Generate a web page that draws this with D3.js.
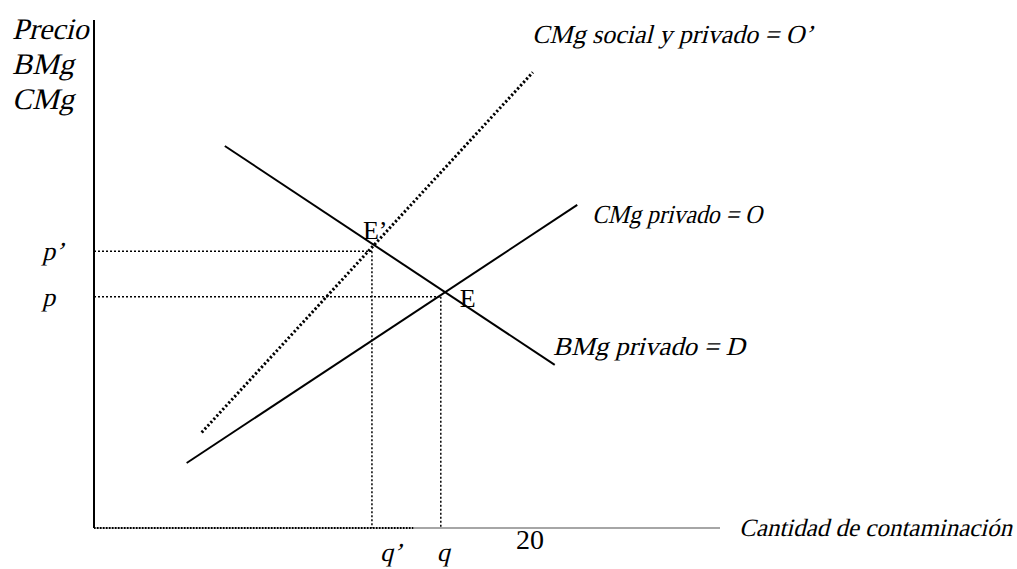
<!DOCTYPE html>
<html>
<head>
<meta charset="utf-8">
<script src="https://cdn.jsdelivr.net/npm/d3@7"></script>
<style>
  body { margin: 0; background: #fff; }
</style>
</head>
<body>
<div id="chart"></div>
<script>
// Curves (quantity, price) in chart units
const demanda = [[20.9, 75.2], [73.6, 32.1]];        // BMg privado = D
const ofertaPrivada = [[14.8, 12.8], [77.2, 63.6]];  // CMg privado = O
const ofertaSocial = [[17.2, 18.8], [70.1, 89.7]];   // CMg social y privado = O'

// Equilibria
const equilibrios = [
  { name: "E’", q: 44.4, p: 54.5 },
  { name: "E", q: 55.4, p: 45.5 }
];

const yLabels = ["Precio", "BMg", "CMg"];
const priceLabels = ["p’", "p"];
const qtyLabels = ["q’", "q"];
const xTickLabel = "20";
const xTitle = "Cantidad de contaminación";
const curveLabels = ["CMg social y privado = O’", "CMg privado = O", "BMg privado = D"];

const FONT = "'Liberation Serif', 'Times New Roman', Times, serif";
const W = 1017, H = 569;
const svg = d3.select("#chart").append("svg")
  .attr("width", W).attr("height", H);

// scales
const x = d3.scaleLinear().domain([0, 100]).range([94, 720]);
const y = d3.scaleLinear().domain([0, 100]).range([528, 20]);

const line = d3.line().x(d => x(d[0])).y(d => y(d[1]));

// italic look: upright serif skewed (no italic face needed)
function italic(px, py, size, t, len) {
  const el = svg.append("text")
    .attr("transform", `translate(${px},${py}) skewX(-14)`)
    .attr("font-family", FONT)
    .attr("font-size", size)
    .text(t);
  if (len) el.attr("textLength", len).attr("lengthAdjust", "spacingAndGlyphs");
  return el;
}

// x axis: dotted part then gray solid
svg.append("line")
  .attr("x1", x(0)).attr("x2", x(100))
  .attr("y1", y(0)).attr("y2", y(0))
  .attr("stroke", "#888").attr("stroke-width", 1.5);
svg.append("line")
  .attr("x1", x(0)).attr("x2", x(51))
  .attr("y1", y(0)).attr("y2", y(0))
  .attr("stroke", "#000").attr("stroke-width", 2)
  .attr("stroke-dasharray", "1.5,1.5");

// y axis
svg.append("line")
  .attr("x1", x(0)).attr("x2", x(0))
  .attr("y1", y(0)).attr("y2", y(100))
  .attr("stroke", "#000").attr("stroke-width", 2);

// guide lines to equilibria
equilibrios.forEach(e => {
  svg.append("line")
    .attr("x1", x(0)).attr("x2", x(e.q))
    .attr("y1", y(e.p)).attr("y2", y(e.p))
    .attr("stroke", "#000").attr("stroke-width", 1.5)
    .attr("stroke-dasharray", "2,2");
  svg.append("line")
    .attr("x1", x(e.q)).attr("x2", x(e.q))
    .attr("y1", y(e.p)).attr("y2", y(0))
    .attr("stroke", "#000").attr("stroke-width", 1.5)
    .attr("stroke-dasharray", "2,2");
});

// curves
svg.append("path").attr("d", line(demanda))
  .attr("fill", "none").attr("stroke", "#000").attr("stroke-width", 2);
svg.append("path").attr("d", line(ofertaPrivada))
  .attr("fill", "none").attr("stroke", "#000").attr("stroke-width", 2);
svg.append("path").attr("d", line(ofertaSocial))
  .attr("fill", "none").attr("stroke", "#000").attr("stroke-width", 3)
  .attr("stroke-dasharray", "2.2,2.2");

// y axis title (stacked)
yLabels.forEach((t, i) => italic(12, 39 + i * 35, 30, t));

// price labels
priceLabels.forEach((t, i) => italic(42, y(equilibrios[i].p) + 9, 26, t));

// quantity labels
qtyLabels.forEach((t, i) => italic(x(equilibrios[i].q) + (i === 0 ? 8 : -4), 561, 26, t));

// tick label "20"
svg.append("text")
  .attr("x", 516).attr("y", 549)
  .attr("font-family", FONT)
  .attr("font-size", 28)
  .text(xTickLabel);

// x title
italic(739, 536, 25, xTitle, 273);

// equilibrium labels
svg.append("text")
  .attr("x", x(equilibrios[0].q) - 9).attr("y", y(equilibrios[0].p) - 12)
  .attr("font-family", FONT)
  .attr("font-size", 26)
  .text(equilibrios[0].name);
svg.append("text")
  .attr("x", x(equilibrios[1].q) + 19).attr("y", y(equilibrios[1].p) + 10)
  .attr("font-family", FONT)
  .attr("font-size", 26)
  .text(equilibrios[1].name);

// curve labels
const curvePos = [[532, 43, 281], [592, 223, 170], [553, 355, 192]];
curveLabels.forEach((t, i) => italic(curvePos[i][0], curvePos[i][1], 26, t, curvePos[i][2]));
</script>
</body>
</html>
